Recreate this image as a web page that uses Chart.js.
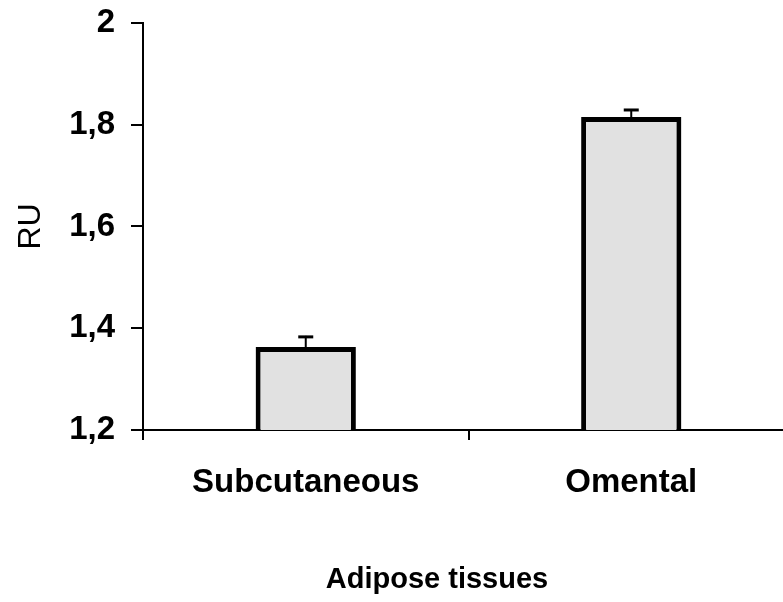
<!DOCTYPE html>
<html>
<head>
<meta charset="utf-8">
<script src="https://cdn.jsdelivr.net/npm/chart.js@4/dist/chart.umd.min.js"></script>
<style>
  html, body { margin: 0; padding: 0; background: #fff; overflow: hidden; }
  #wrap { width: 794px; height: 602px; position: relative; }
</style>
</head>
<body>
<div id="wrap"><canvas id="chart"></canvas></div>
<script>
var categories = ['Subcutaneous', 'Omental'];
var ruValues = [1.363, 1.815];
var ruErrors = [0.022, 0.016];
var yTickValues = [1.2, 1.4, 1.6, 1.8, 2];
var yTickLabels = ['1,2', '1,4', '1,6', '1,8', '2'];

var fontFamily = '"Liberation Sans", Arial, Helvetica, sans-serif';
var ink = '#000000';

/* error bars drawn on top of each bar */
var errorBarPlugin = {
  id: 'errorBars',
  afterDatasetsDraw: function(chartInst) {
    var c = chartInst.ctx;
    var yScale = chartInst.scales.y;
    var meta = chartInst.getDatasetMeta(0);
    meta.data.forEach(function(bar, i) {
      var top = yScale.getPixelForValue(ruValues[i] + ruErrors[i]);
      c.save();
      c.strokeStyle = ink;
      c.lineWidth = 2;
      c.beginPath();
      c.moveTo(bar.x, bar.y);
      c.lineTo(bar.x, top);
      c.stroke();
      c.lineWidth = 3;
      c.beginPath();
      c.moveTo(bar.x - 7.5, top + 1);
      c.lineTo(bar.x + 7.5, top + 1);
      c.stroke();
      c.restore();
    });
  }
};

/* x axis title, sits left of the plot centre in the original */
var xTitlePlugin = {
  id: 'xTitle',
  afterDraw: function(chartInst) {
    var c = chartInst.ctx;
    c.save();
    c.font = 'bold 29px ' + fontFamily;
    c.fillStyle = ink;
    c.textAlign = 'center';
    c.textBaseline = 'middle';
    c.fillText('Adipose tissues', 437, 580);
    c.restore();
  }
};

new Chart(document.getElementById('chart'), {
  type: 'bar',
  data: {
    labels: categories,
    datasets: [{
      label: 'RU',
      data: ruValues,
      backgroundColor: '#e1e1e1',
      borderColor: ink,
      borderWidth: 5,
      borderSkipped: false,
      categoryPercentage: 1,
      barPercentage: 0.308
    }]
  },
  options: {
    responsive: true,
    maintainAspectRatio: false,
    animation: false,
    layout: { padding: { top: 23, right: 0, bottom: 0, left: 0 } },
    plugins: {
      legend: { display: false },
      tooltip: { enabled: false }
    },
    scales: {
      x: {
        offset: true,
        grid: { offset: true, drawOnChartArea: false, drawTicks: true, tickLength: 10, color: ink, lineWidth: 2 },
        border: { display: true, color: ink, width: 2 },
        ticks: { color: ink, padding: 23, font: { family: fontFamily, size: 33, weight: 'bold' } },
        afterFit: function(axis) { axis.height = 172; }
      },
      y: {
        min: 1.2,
        max: 2,
        afterBuildTicks: function(axis) {
          axis.ticks = yTickValues.map(function(v) { return { value: v }; });
        },
        grid: { drawOnChartArea: false, drawTicks: true, tickLength: 12, color: ink, lineWidth: 2 },
        border: { display: true, color: ink, width: 2 },
        ticks: {
          color: ink,
          padding: 16,
          font: { family: fontFamily, size: 33, weight: 'bold' },
          callback: function(value, index) { return yTickLabels[index]; }
        },
        title: {
          display: true,
          text: 'RU',
          color: ink,
          padding: { top: 12, bottom: 0 },
          font: { family: fontFamily, size: 32, weight: 'normal' }
        },
        afterFit: function(axis) {
          axis.width = 143;
          axis.paddingTop = 0;
          axis.paddingBottom = 0;
        }
      }
    }
  },
  plugins: [errorBarPlugin, xTitlePlugin]
});
</script>
</body>
</html>
